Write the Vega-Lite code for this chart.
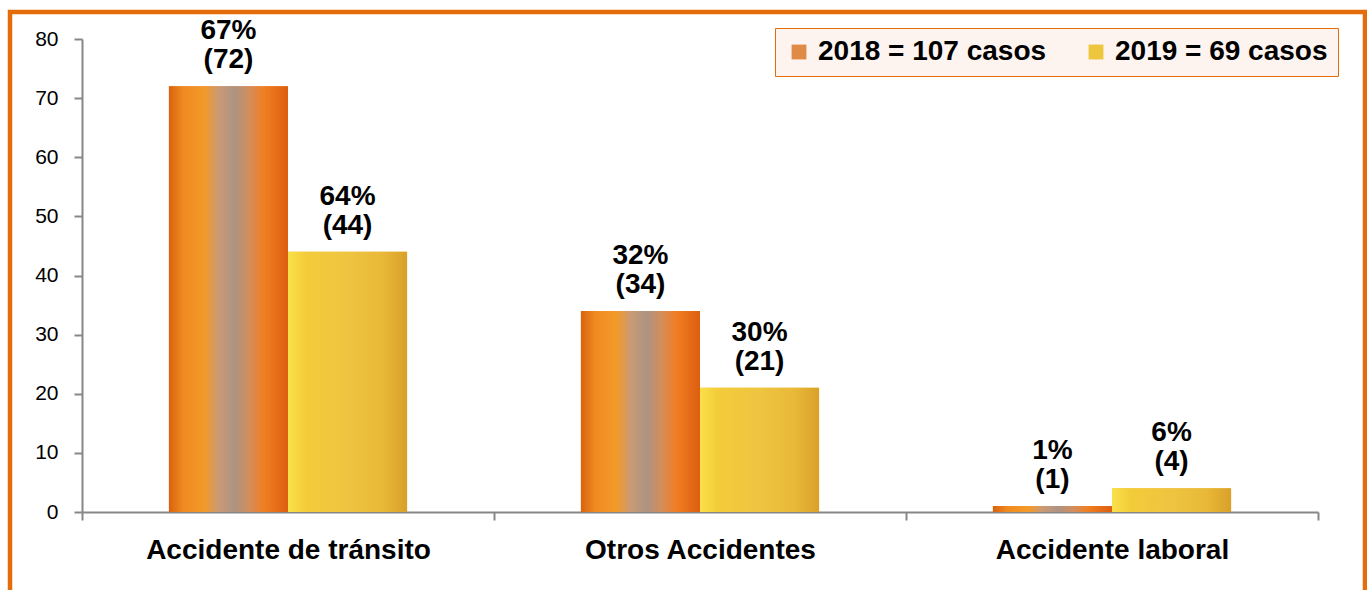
{
  "$schema": "https://vega.github.io/schema/vega-lite/v6.json",
  "width": 1355,
  "height": 600,
  "autosize": {"type": "none"},
  "padding": {"left": 10, "top": 12, "right": 2, "bottom": 0},
  "background": "white",
  "config": {
    "view": {"stroke": "#E46C0A", "strokeWidth": 4.5},
    "font": "Liberation Sans"
  },
  "data": {
    "values": [
      {"cat": "Accidente de tránsito", "serie": "2018 = 107 casos", "casos": 72, "label": "67%\n(72)"},
      {"cat": "Accidente de tránsito", "serie": "2019 = 69 casos", "casos": 44, "label": "64%\n(44)"},
      {"cat": "Otros Accidentes", "serie": "2018 = 107 casos", "casos": 34, "label": "32%\n(34)"},
      {"cat": "Otros Accidentes", "serie": "2019 = 69 casos", "casos": 21, "label": "30%\n(21)"},
      {"cat": "Accidente laboral", "serie": "2018 = 107 casos", "casos": 1, "label": "1%\n(1)"},
      {"cat": "Accidente laboral", "serie": "2019 = 69 casos", "casos": 4, "label": "6%\n(4)"}
    ]
  },
  "encoding": {
    "x": {
      "field": "cat", "type": "nominal", "sort": null,
      "scale": {"range": [72, 1308], "paddingInner": 0, "paddingOuter": 0},
      "axis": {
        "title": null, "orient": "bottom", "offset": -100,
        "domainColor": "#878787", "domainWidth": 2,
        "tickColor": "#878787", "tickWidth": 2, "tickSize": 8, "tickBand": "extent",
        "labelFontSize": 28, "labelFontWeight": "bold", "labelColor": "black",
        "labelPadding": 16, "labelAngle": 0, "labelLimit": 500
      }
    },
    "xOffset": {"field": "serie", "type": "nominal", "sort": null, "scale": {"paddingInner": 0, "paddingOuter": 0.73}},
    "y": {
      "field": "casos", "type": "quantitative",
      "scale": {"domain": [0, 80], "range": [500, 27], "nice": false, "zero": true},
      "axis": {
        "title": null, "offset": -72, "values": [0, 10, 20, 30, 40, 50, 60, 70, 80], "grid": false,
        "domainColor": "#878787", "domainWidth": 2,
        "tickColor": "#878787", "tickWidth": 2, "tickSize": 8,
        "labelFontSize": 21, "labelColor": "black", "labelPadding": 16
      }
    }
  },
  "layer": [
    {
      "mark": {"type": "bar", "clip": false},
      "encoding": {
        "color": {
          "field": "serie", "type": "nominal", "sort": null,
          "scale": {"range": ["#E08A48", "#EEC63E"]},
          "legend": {
            "title": null, "orient": "none", "legendX": 765, "legendY": 16,
            "direction": "horizontal",
            "fillColor": "#FDF4EF", "strokeColor": "#E46C0A",
            "padding": 10, "columnPadding": 35, "labelOffset": 5,
            "labelFontSize": 28, "labelFontWeight": "bold", "labelColor": "black",
            "labelLimit": 400,
            "symbolType": "square", "symbolSize": 220, "symbolStrokeWidth": 0
          }
        }
      }
    },
    {
      "transform": [{"filter": "datum.serie === '2018 = 107 casos'"}],
      "mark": {"type": "bar", "clip": false, "color": {"gradient": "linear", "x1": 0, "y1": 0, "x2": 1, "y2": 0, "stops": [
        {"offset": 0, "color": "#D8620F"},
        {"offset": 0.12, "color": "#F08A20"},
        {"offset": 0.3, "color": "#F39A2A"},
        {"offset": 0.42, "color": "#C99A76"},
        {"offset": 0.55, "color": "#AD9382"},
        {"offset": 0.68, "color": "#D58D5A"},
        {"offset": 0.8, "color": "#F07E22"},
        {"offset": 1, "color": "#DC5E10"}
      ]}}
    },
    {
      "transform": [{"filter": "datum.serie === '2019 = 69 casos'"}],
      "mark": {"type": "bar", "clip": false, "color": {"gradient": "linear", "x1": 0, "y1": 0, "x2": 1, "y2": 0, "stops": [
        {"offset": 0, "color": "#F9E04A"},
        {"offset": 0.15, "color": "#F3CC3A"},
        {"offset": 0.5, "color": "#EEC440"},
        {"offset": 0.8, "color": "#E9B838"},
        {"offset": 1, "color": "#D9A02A"}
      ]}}
    },
    {
      "mark": {"type": "text", "lineBreak": "\n", "fontSize": 28, "fontWeight": "bold", "baseline": "bottom", "dy": -41, "lineHeight": 29, "color": "black"},
      "encoding": {"text": {"field": "label"}}
    }
  ]
}
